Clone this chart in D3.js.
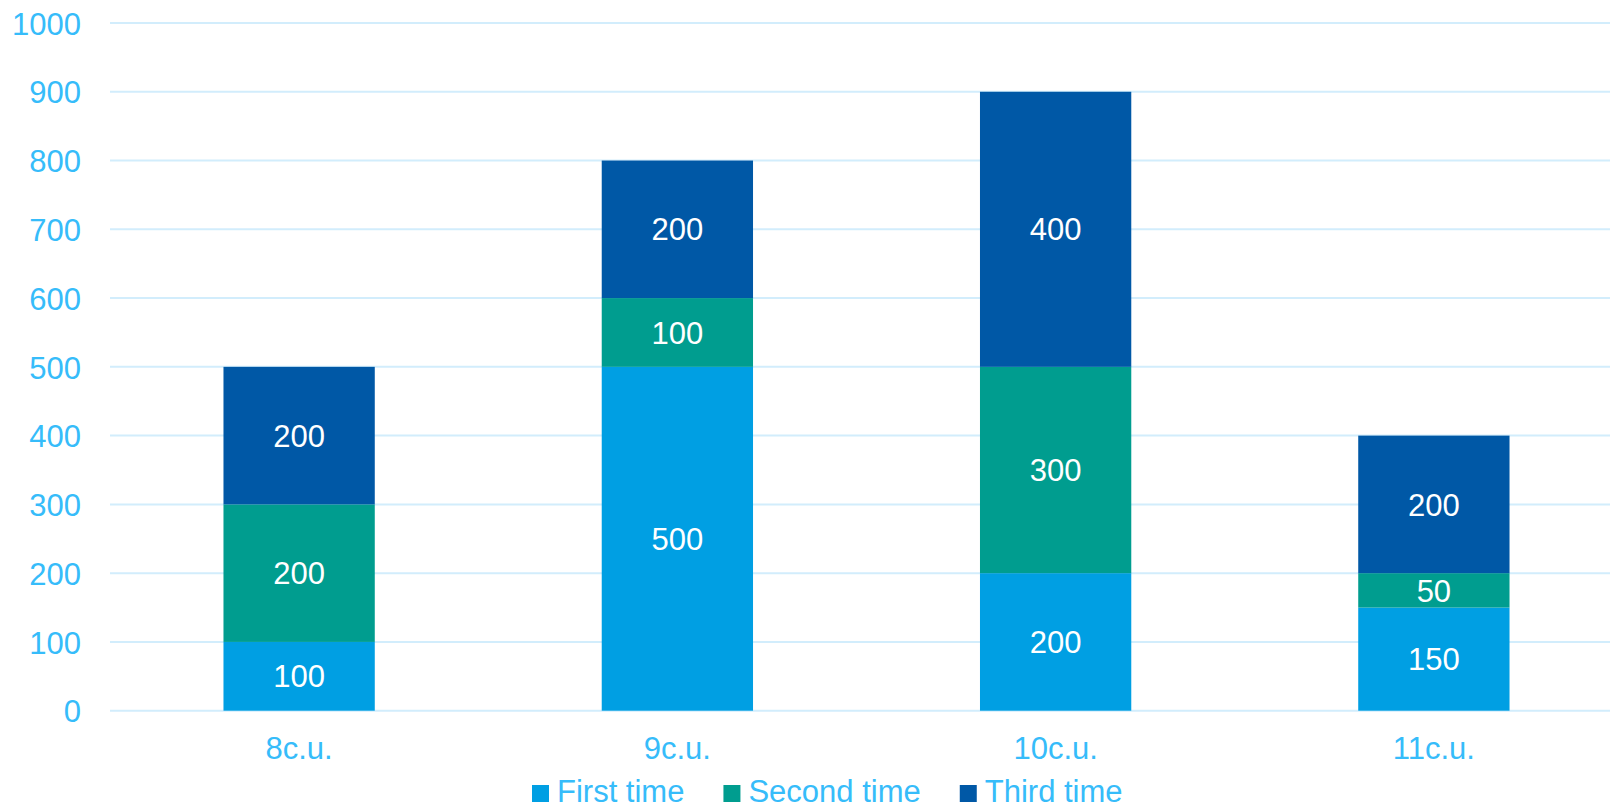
<!DOCTYPE html>
<html>
<head>
<meta charset="utf-8">
<script src="https://cdn.jsdelivr.net/npm/d3@7"></script>
<style>
  html, body { margin: 0; padding: 0; background: #ffffff; }
  svg text { font-family: "Liberation Sans", Arial, sans-serif; }
</style>
</head>
<body>
<svg id="chart" width="1610" height="808"></svg>
<script>
const categories = ["8c.u.", "9c.u.", "10c.u.", "11c.u."];
const seriesNames = ["First time", "Second time", "Third time"];
const firstTime = [100, 500, 200, 150];
const secondTime = [200, 100, 300, 50];
const thirdTime = [200, 200, 400, 200];
const yTicks = [0, 100, 200, 300, 400, 500, 600, 700, 800, 900, 1000];
const colors = ["#009FE3", "#009D8F", "#0058A6"];

const svg = d3.select("#chart");
const W = 1610;
const axisColor = "#36BCFA";
const gridColor = "#D2EDFC";
const fontSize = 31;

const x = d3.scaleBand().domain(categories).range([110, 1623])
  .paddingInner(0.6).paddingOuter(0.3);
const y = d3.scaleLinear().domain([0, 1000]).range([710.7, 23]);

// gridlines
svg.append("g").selectAll("line").data(yTicks).join("line")
  .attr("x1", 110).attr("x2", W)
  .attr("y1", d => y(d)).attr("y2", d => y(d))
  .attr("stroke", gridColor).attr("stroke-width", 2);

// y axis labels
const yAxis = d3.axisLeft(y).tickValues(yTicks).tickFormat(d3.format("d")).tickSize(0).tickPadding(0);
const gy = svg.append("g").attr("transform", "translate(81,0)").call(yAxis);
gy.select(".domain").remove();
gy.selectAll("text").attr("fill", axisColor).attr("font-size", fontSize)
  .attr("font-family", "Liberation Sans, Arial, sans-serif").attr("dy", "0.36em").attr("x", 0);

// x axis labels
const xAxis = d3.axisBottom(x).tickSize(0).tickPadding(0);
const gx = svg.append("g").attr("transform", "translate(0,759)").call(xAxis);
gx.select(".domain").remove();
gx.selectAll("text").attr("fill", axisColor).attr("font-size", fontSize)
  .attr("font-family", "Liberation Sans, Arial, sans-serif").attr("dy", 0).attr("y", 0);

// stacked data
const table = categories.map((c, i) => ({
  cat: c, "First time": firstTime[i], "Second time": secondTime[i], "Third time": thirdTime[i]
}));
const stacked = d3.stack().keys(seriesNames)(table);

const layers = svg.append("g").selectAll("g").data(stacked).join("g")
  .attr("fill", (d, i) => colors[i]);
layers.selectAll("rect").data(d => d).join("rect")
  .attr("x", d => x(d.data.cat))
  .attr("width", x.bandwidth())
  .attr("y", d => y(d[1]))
  .attr("height", d => y(d[0]) - y(d[1]));

// value labels
const labels = svg.append("g");
stacked.forEach(layer => {
  layer.forEach(d => {
    const v = d[1] - d[0];
    labels.append("text")
      .attr("x", x(d.data.cat) + x.bandwidth() / 2)
      .attr("y", (y(d[0]) + y(d[1])) / 2)
      .attr("dy", "0.36em")
      .attr("text-anchor", "middle")
      .attr("fill", "#ffffff")
      .attr("font-size", fontSize)
      .text(v);
  });
});

// legend
const legend = svg.append("g").attr("transform", "translate(532,0)");
let lx = 0;
seriesNames.forEach((name, i) => {
  const g = legend.append("g").attr("transform", `translate(${lx},0)`);
  g.append("rect").attr("x", 0).attr("y", 785).attr("width", 17).attr("height", 17)
    .attr("fill", colors[i]);
  const t = g.append("text").attr("x", 25).attr("y", 802)
    .attr("fill", axisColor).attr("font-size", fontSize).text(name);
  const w = t.node().getComputedTextLength();
  lx += 25 + w + 39;
});
</script>
</body>
</html>
